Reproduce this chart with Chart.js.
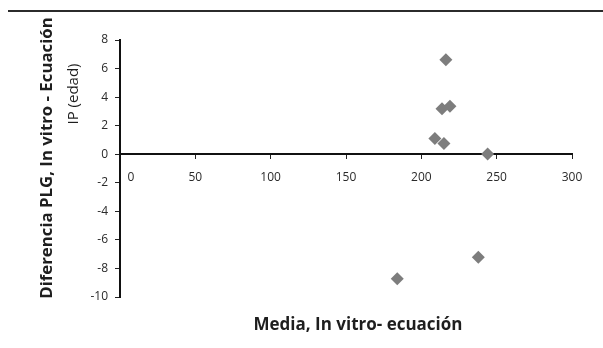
<!DOCTYPE html>
<html>
<head>
<meta charset="utf-8">
<script src="https://cdn.jsdelivr.net/npm/chart.js@4.4.1/dist/chart.umd.min.js"></script>
<style>
  html, body { margin: 0; padding: 0; background: #fff; }
  #wrap { position: relative; width: 603px; height: 348px; }
</style>
</head>
<body>
<div id="wrap"><canvas id="c" width="603" height="348"></canvas></div>
<script>
// Mean of the two methods (x) vs. their difference (y)
const mediaValues = [216.3, 213.7, 219.0, 209.0, 215.0, 244.0, 184.0, 237.8];
const diferenciaValues = [6.62, 3.19, 3.36, 1.10, 0.75, 0.02, -8.72, -7.22];
const xTickValues = [0, 50, 100, 150, 200, 250, 300];
const yTickValues = [-10, -8, -6, -4, -2, 0, 2, 4, 6, 8];

const xTitle = 'Media, In vitro- ecuación';
const yTitleMain = 'Diferencia PLG, In vitro - Ecuación';
const yTitleSub = 'IP (edad)';

const points = mediaValues.map((x, i) => ({ x, y: diferenciaValues[i] }));

const FONT = '"Open Sans", "Liberation Sans", sans-serif';

const decorPlugin = {
  id: 'decor',
  afterDraw(chart) {
    const ctx = chart.ctx;
    const xs = chart.scales.x;
    const ys = chart.scales.y;
    ctx.save();
    // rule across the top of the figure
    ctx.fillStyle = '#2b2b2b';
    ctx.fillRect(8, 10, 595, 2);

    // x tick labels below the zero line
    ctx.fillStyle = '#2a2a2a';
    ctx.font = '12px ' + FONT;
    ctx.textAlign = 'center';
    ctx.textBaseline = 'middle';
    const y0 = ys.getPixelForValue(0);
    xs.ticks.forEach((t) => {
      let px = xs.getPixelForValue(t.value);
      if (t.value === 0) px += 11;
      ctx.fillText(String(t.value), px, y0 + 23);
    });

    // axis titles
    ctx.fillStyle = '#1e1e1e';
    ctx.font = 'bold 17px ' + FONT;
    ctx.fillText(xTitle, 358, 325);

    ctx.translate(47, 158);
    ctx.rotate(-Math.PI / 2);
    ctx.font = 'bold 16.8px ' + FONT;
    ctx.fillText(yTitleMain, 0, 0);
    ctx.restore();

    ctx.save();
    ctx.fillStyle = '#1e1e1e';
    ctx.font = '15px ' + FONT;
    ctx.textAlign = 'center';
    ctx.textBaseline = 'middle';
    ctx.translate(74, 94);
    ctx.rotate(-Math.PI / 2);
    ctx.fillText(yTitleSub, 0, 0);
    ctx.restore();
  }
};

new Chart(document.getElementById('c'), {
  type: 'scatter',
  data: {
    datasets: [{
      data: points,
      pointStyle: 'rectRot',
      pointRadius: 6.5,
      pointHoverRadius: 6.5,
      backgroundColor: '#7d7d7d',
      borderColor: '#7d7d7d',
      borderWidth: 0
    }]
  },
  options: {
    responsive: false,
    animation: false,
    events: [],
    layout: { padding: { left: 0, top: 40, right: 31, bottom: 51 } },
    plugins: { legend: { display: false }, tooltip: { enabled: false } },
    scales: {
      x: {
        type: 'linear',
        position: { y: 0 },
        min: 0,
        max: 300,
        afterBuildTicks(scale) { scale.ticks = xTickValues.map(v => ({ value: v })); },
        ticks: { display: false },
        grid: { display: true, drawOnChartArea: false, drawTicks: true, tickLength: 4, color: '#222', lineWidth: 1 },
        border: { display: true, color: '#111', width: 2 }
      },
      y: {
        type: 'linear',
        position: 'left',
        min: -10,
        max: 8,
        afterBuildTicks(scale) { scale.ticks = yTickValues.map(v => ({ value: v })); },
        afterFit(scale) { scale.width = 120; },
        ticks: { color: '#2a2a2a', font: { family: FONT, size: 12 }, padding: 7 },
        grid: { display: true, drawOnChartArea: false, drawTicks: true, tickLength: 5, color: '#222', lineWidth: 1 },
        border: { display: true, color: '#111', width: 2 }
      }
    }
  },
  plugins: [decorPlugin]
});
</script>
</body>
</html>
